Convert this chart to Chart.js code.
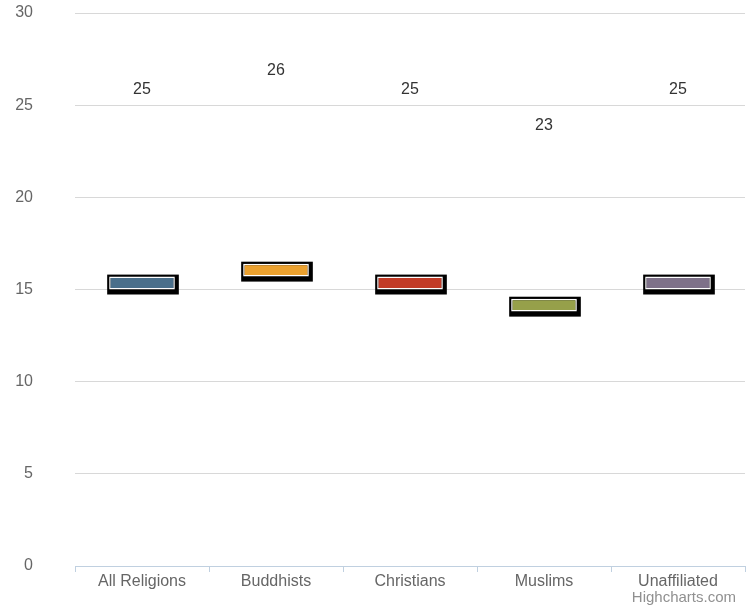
<!DOCTYPE html>
<html>
<head>
<meta charset="utf-8">
<script src="https://cdn.jsdelivr.net/npm/chart.js@4"></script>
<style>
  html, body { margin: 0; padding: 0; background: #fff; }
  #wrap { width: 747px; height: 612px; }
</style>
</head>
<body>
<div id="wrap"><canvas id="myChart"></canvas></div>
<script>
const ctx = document.getElementById("myChart");

// datos
const categorias = ["All Religions", "Buddhists", "Christians", "Muslims", "Unaffiliated"];
const bajos = [15.0, 15.7, 15.0, 13.8, 15.0];
const altos = [15.7, 16.4, 15.7, 14.5, 15.7];
const etiquetas = [25, 26, 25, 23, 25];
const colores = ["#4A6F8B", "#EBA12F", "#C23B27", "#96A04A", "#7E7189"];
const ticksY = [0, 5, 10, 15, 20, 25, 30];

const fuente = "'Liberation Sans', Arial, Helvetica, sans-serif";

// sombra negra detras de cada barra
const sombra = {
  id: "sombra",
  beforeDatasetsDraw(chart) {
    const c = chart.ctx;
    const meta = chart.getDatasetMeta(0);
    c.save();
    c.fillStyle = "#000";
    meta.data.forEach((bar) => {
      const p = bar.getProps(["x", "y", "base", "width"], true);
      const left = p.x - p.width / 2;
      const top = Math.min(p.y, p.base);
      const h = Math.abs(p.base - p.y);
      c.fillRect(left - 2, top - 2, p.width + 6, h + 7);
    });
    c.restore();
  },
};

// numeros encima y credito
const textos = {
  id: "textos",
  afterDatasetsDraw(chart) {
    const c = chart.ctx;
    const y = chart.scales.y;
    const meta = chart.getDatasetMeta(0);
    c.save();
    c.font = "16px " + fuente;
    c.fillStyle = "#333333";
    c.textAlign = "center";
    c.textBaseline = "middle";
    meta.data.forEach((bar, i) => {
      c.fillText(String(etiquetas[i]), bar.x, y.getPixelForValue(etiquetas[i]) - 16);
    });
    c.font = "15px " + fuente;
    c.fillStyle = "#909090";
    c.textAlign = "right";
    c.fillText("Highcharts.com", 736, 598);
    c.restore();
  },
};

new Chart(ctx, {
  type: "bar",
  data: {
    labels: categorias,
    datasets: [
      {
        data: categorias.map((_, i) => [bajos[i], altos[i]]),
        backgroundColor: colores,
        borderColor: "#ffffff",
        borderWidth: 1.5,
        borderSkipped: false,
        categoryPercentage: 1,
        barPercentage: 0.49,
      },
    ],
  },
  options: {
    responsive: true,
    maintainAspectRatio: false,
    animation: false,
    layout: { padding: { top: 13, right: 2, left: 0, bottom: 0 } },
    plugins: { legend: { display: false }, tooltip: { enabled: false } },
    scales: {
      x: {
        afterFit: (s) => {
          s.height = 46;
          s.paddingLeft = 0;
          s.paddingRight = 0;
        },
        grid: {
          offset: true,
          drawOnChartArea: false,
          drawTicks: true,
          tickLength: 6,
          color: "#C0D0E0",
        },
        border: { color: "#C0D0E0", width: 1 },
        ticks: {
          padding: 0,
          color: "#666666",
          font: { family: fuente, size: 16 },
        },
      },
      y: {
        min: 0,
        max: 30,
        afterFit: (s) => {
          s.width = 75;
          s.paddingTop = 0;
          s.paddingBottom = 0;
        },
        afterBuildTicks: (s) => { s.ticks = ticksY.map((v) => ({ value: v })); },
        grid: { color: "#D8D8D8", drawTicks: false },
        border: { display: false },
        ticks: {
          padding: 42,
          color: "#666666",
          font: { family: fuente, size: 16 },
        },
      },
    },
  },
  plugins: [sombra, textos],
});
</script>
</body>
</html>
